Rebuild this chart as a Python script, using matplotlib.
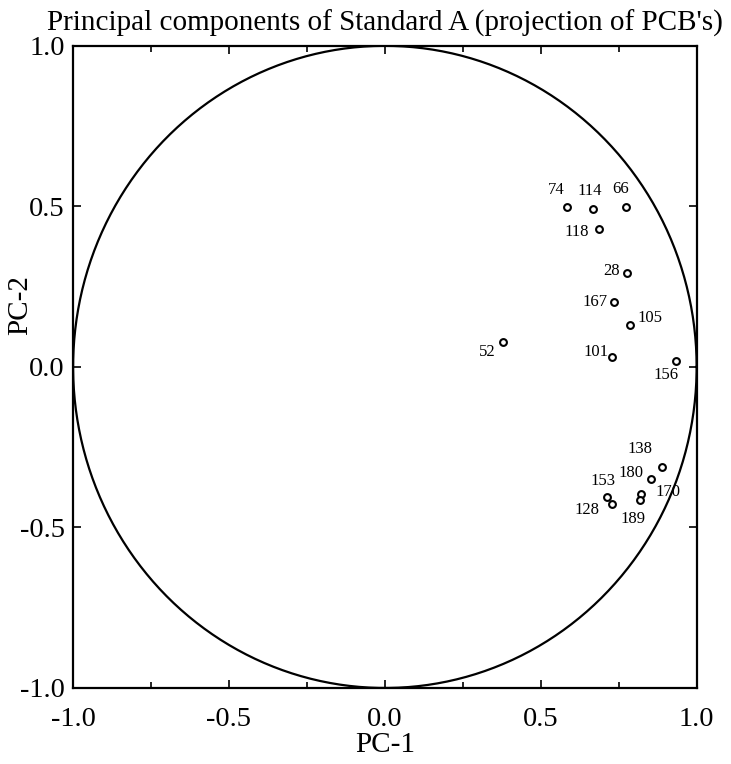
import numpy as np
import matplotlib.pyplot as plt
from matplotlib.ticker import MultipleLocator

plt.rcParams['font.family'] = ['Liberation Serif', 'DejaVu Serif']

# PCB congeners and their loadings on PC-1 / PC-2
pcb_labels = ['74', '114', '66', '118', '28', '167', '105', '52', '101', '156',
              '138', '180', '170', '189', '153', '128']
pc1 = [0.584, 0.668, 0.775, 0.688, 0.777, 0.736, 0.787, 0.379, 0.728, 0.933,
       0.888, 0.852, 0.820, 0.817, 0.713, 0.727]
pc2 = [0.497, 0.492, 0.499, 0.429, 0.294, 0.203, 0.131, 0.079, 0.030, 0.017,
       -0.312, -0.348, -0.397, -0.414, -0.406, -0.428]

# label placement (pixel offsets from the point)
offsets = {'74': (-11, 17), '114': (-3, 18), '66': (-6, 18), '118': (-23, -3),
           '28': (-16, 2), '167': (-19, 0), '105': (20, 7), '52': (-16, -10),
           '101': (-16, 5), '156': (-10, -14), '138': (-22, 18), '180': (-20, 6),
           '170': (27, 2), '189': (-7, -19), '153': (-4, 16), '128': (-25, -6)}

fig = plt.figure(figsize=(7.31, 7.64), dpi=100)
ax = fig.add_axes([0.100, 0.0995, 0.853, 0.8405])

# unit circle
theta = np.linspace(0, 2 * np.pi, 400)
ax.plot(np.cos(theta), np.sin(theta), color='black', lw=1.6)

ax.scatter(pc1, pc2, s=24, facecolors='white', edgecolors='black', linewidths=1.5, zorder=3)

for lab, x, y in zip(pcb_labels, pc1, pc2):
    dx, dy = offsets[lab]
    ax.annotate(lab, (x, y), xytext=(dx, dy), textcoords='offset pixels',
                ha='center', va='center', fontsize=12)

ax.set_xlim(-1, 1)
ax.set_ylim(-1, 1)
ax.xaxis.set_major_locator(MultipleLocator(0.5))
ax.yaxis.set_major_locator(MultipleLocator(0.5))
ax.xaxis.set_minor_locator(MultipleLocator(0.25))
ax.tick_params(which='both', direction='in', top=True, right=True, width=1.2)
ax.tick_params(which='major', length=6, labelsize=20.5)
ax.tick_params(axis='x', which='major', pad=14)
ax.tick_params(axis='y', which='major', pad=6)
ax.tick_params(which='minor', length=4)
ax.xaxis.set_major_formatter(plt.FuncFormatter(lambda v, p: f'{v:.1f}'))
ax.yaxis.set_major_formatter(plt.FuncFormatter(lambda v, p: f'{v:.1f}'))
for s in ax.spines.values():
    s.set_linewidth(1.6)

ax.set_xlabel('PC-1', fontsize=21, labelpad=0)
ax.set_ylabel('PC-2', fontsize=21)
ax.yaxis.set_label_coords(-0.064, 0.597)
ax.set_title("Principal components of Standard A (projection of PCB's)", fontsize=21, pad=11)

fig.savefig('out.png', dpi=100)
